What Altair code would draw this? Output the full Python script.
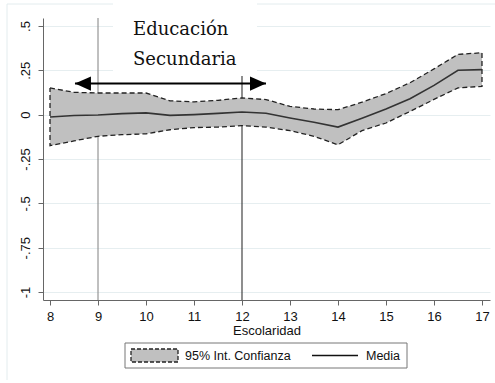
import altair as alt
import pandas as pd

# Years of schooling and the estimated effect with its 95% confidence band
escolaridad = [8, 8.5, 9, 9.5, 10, 10.5, 11, 11.5, 12, 12.5, 13, 13.5, 14, 14.5, 15, 15.5, 16, 16.5, 17]
media = [-0.013, -0.005, -0.002, 0.006, 0.010, -0.004, 0.000, 0.007, 0.015, 0.008, -0.019, -0.043,
         -0.070, -0.020, 0.032, 0.090, 0.165, 0.250, 0.254]
ic_sup = [0.151, 0.126, 0.122, 0.122, 0.122, 0.078, 0.072, 0.081, 0.094, 0.085, 0.047, 0.032,
          0.028, 0.070, 0.119, 0.180, 0.258, 0.340, 0.349]
ic_inf = [-0.175, -0.148, -0.122, -0.113, -0.108, -0.085, -0.073, -0.070, -0.062, -0.070, -0.090, -0.122,
          -0.170, -0.090, -0.047, 0.018, 0.086, 0.151, 0.160]

x_ticks = [8, 9, 10, 11, 12, 13, 14, 15, 16, 17]
y_ticks = [-1, -0.75, -0.5, -0.25, 0, 0.25, 0.5]
x_lines = [9, 12]
flecha_x = [8.52, 12.5]
flecha_y = 0.175

df = pd.DataFrame({"esc": escolaridad, "media": media, "sup": ic_sup, "inf": ic_inf})

# closed outline of the band: upper edge left->right, lower edge right->left
contorno = pd.DataFrame({
    "esc": escolaridad + escolaridad[::-1] + [escolaridad[0]],
    "val": ic_sup + ic_inf[::-1] + [ic_sup[0]],
})
contorno["orden"] = range(len(contorno))

xs = alt.Scale(domain=[7.854, 17.167], nice=False, zero=False)
ys = alt.Scale(domain=[-1.045, 0.545], nice=False, zero=False)

FONT = "Liberation Sans"
uno = pd.DataFrame({"a": [0]})

x_axis = alt.Axis(values=x_ticks, format="d", title="Escolaridad", grid=False,
                  tickSize=5, labelPadding=15, labelBaseline="alphabetic",
                  labelFont=FONT, labelFontSize=13, labelColor="#111",
                  titleFont=FONT, titleFontSize=13, titleFontWeight="normal", titleColor="#111",
                  titleY=34, titleBaseline="alphabetic",
                  domainColor="#666", tickColor="#666")
y_axis = alt.Axis(values=y_ticks, title="", grid=True, gridColor="#e6eef0", gridWidth=1,
                  tickSize=5, labelAngle=270, labelAlign="center", labelBaseline="bottom",
                  labelPadding=6, labelFont=FONT, labelFontSize=13, labelColor="#111",
                  labelExpr="datum.value == 0 ? '0' : replace(toString(datum.value), '0.', '.')",
                  domainColor="#666", tickColor="#666")

# outer light frame
marco_izq = alt.Chart(uno).mark_rule(color="#e3ecee", strokeWidth=1).encode(
    x=alt.value(-36), y=alt.value(-14), y2=alt.value(362))
marco_sup = alt.Chart(uno).mark_rule(color="#e3ecee", strokeWidth=1).encode(
    x=alt.value(-36), x2=alt.value(460), y=alt.value(-14))

# reference verticals
reglas = alt.Chart(pd.DataFrame({"x": x_lines, "c": ["#8c8c8c", "#333333"]})).mark_rule(strokeWidth=1.1).encode(
    x=alt.X("x:Q", scale=xs, axis=x_axis),
    color=alt.Color("c:N", scale=None),
)

banda = alt.Chart(df).mark_area(color="#c0c0c0", opacity=1).encode(
    x=alt.X("esc:Q", scale=xs, axis=x_axis),
    y=alt.Y("inf:Q", scale=ys, axis=y_axis),
    y2="sup:Q",
)

borde = alt.Chart(contorno).mark_line(color="#222", strokeWidth=1.3, strokeDash=[5, 3]).encode(
    x=alt.X("esc:Q", scale=xs),
    y=alt.Y("val:Q", scale=ys),
    order="orden:Q",
)

linea = alt.Chart(df).mark_line(color="#333", strokeWidth=1.6).encode(
    x=alt.X("esc:Q", scale=xs),
    y=alt.Y("media:Q", scale=ys),
)

# white label box at the top
caja = alt.Chart(uno).mark_rect(color="white").encode(
    x=alt.value(70), x2=alt.value(214), y=alt.value(-18), y2=alt.value(58))

etiqueta = alt.Chart(pd.DataFrame({"t": ["Educación", "Secundaria"], "yy": [17, 47]})).mark_text(
    font="DejaVu Serif", fontSize=18, align="left", baseline="alphabetic", color="#111"
).encode(text="t:N", x=alt.value(90), y=alt.Y("yy:Q", scale=None))

flecha_df = pd.DataFrame({"x": [flecha_x[0]], "x2": [flecha_x[1]], "y": [flecha_y]})
eje_flecha = alt.Chart(flecha_df).mark_rule(color="black", strokeWidth=2).encode(
    x=alt.X("x:Q", scale=xs), x2="x2:Q", y=alt.Y("y:Q", scale=ys))
punta_izq = alt.Chart(pd.DataFrame({"x": [flecha_x[0]], "y": [flecha_y]})).mark_point(
    shape="M0,0L2,-0.9L2,0.9Z", size=256, filled=True, color="black", opacity=1
).encode(x=alt.X("x:Q", scale=xs), y=alt.Y("y:Q", scale=ys))
punta_der = alt.Chart(pd.DataFrame({"x": [flecha_x[1]], "y": [flecha_y]})).mark_point(
    shape="M0,0L-2,-0.9L-2,0.9Z", size=256, filled=True, color="black", opacity=1
).encode(x=alt.X("x:Q", scale=xs), y=alt.Y("y:Q", scale=ys))

# legend
ley_caja = alt.Chart(uno).mark_rect(fill="white", stroke="#777", strokeWidth=1).encode(
    x=alt.value(82), x2=alt.value(364), y=alt.value(325), y2=alt.value(350))
ley_muestra = alt.Chart(uno).mark_rect(fill="#c0c0c0", stroke="#222", strokeWidth=1.3, strokeDash=[4, 2]).encode(
    x=alt.value(88), x2=alt.value(135), y=alt.value(331), y2=alt.value(344))
ley_linea = alt.Chart(uno).mark_rule(color="#111", strokeWidth=1.4).encode(
    x=alt.value(269), x2=alt.value(315), y=alt.value(337.5))
ley_textos = alt.Chart(pd.DataFrame({"t": ["95% Int. Confianza", "Media"], "xx": [142, 323]})).mark_text(
    font=FONT, fontSize=12.5, align="left", baseline="middle", color="#111"
).encode(text="t:N", x=alt.X("xx:Q", scale=None), y=alt.value(338))

chart = alt.layer(
    marco_izq, marco_sup, reglas, banda, borde, linea, caja, etiqueta,
    eje_flecha, punta_izq, punta_der, ley_caja, ley_muestra, ley_linea, ley_textos
).resolve_scale(x="shared", y="shared").properties(
    width=447, height=282,
    padding={"left": 43, "top": 18, "right": 5, "bottom": 83},
    autosize=alt.AutoSizeParams(type="none"),
    background="white",
).configure_view(stroke=None)

chart.save("out.html", embed_options={"renderer": "svg", "actions": False})
